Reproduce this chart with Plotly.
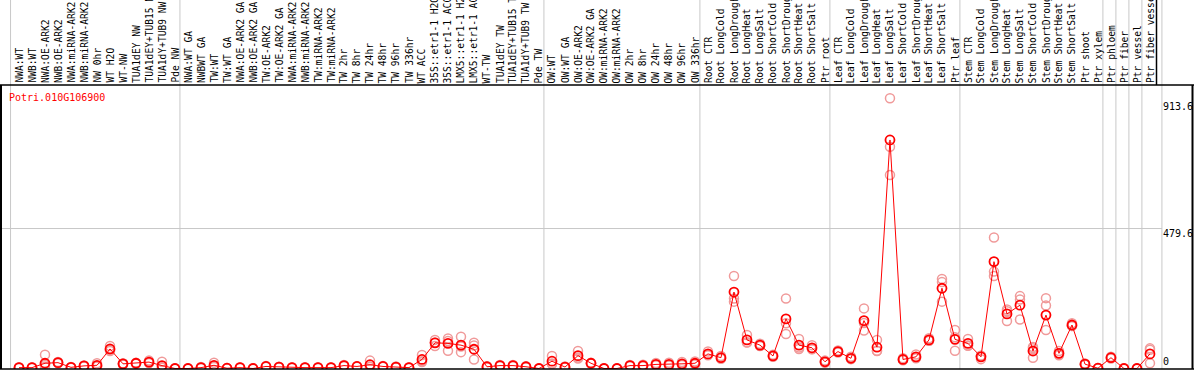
import plotly.graph_objects as go

gene = "Potri.010G106900"

categories = [
    "NWA:WT", "NWB:WT", "NWA:OE-ARK2", "NWB:OE-ARK2", "NWA:miRNA-ARK2", "NWB:miRNA-ARK2",
    "NW 0hr", "WT H2O", "WT-NW", "TUA1dEY NW", "TUA1dEY+TUB15 NW", "TUA1dY+TUB9 NW", "Pde NW",
    "NWA:WT GA", "NWBWT GA", "TW:WT", "TW:WT GA", "NWA:OE-ARK2 GA", "NWB:OE-ARK2 GA",
    "TW:OE-ARK2", "TW:OE-ARK2 GA", "NWA:miRNA-ARK2", "NWB:miRNA-ARK2", "TW:miRNA-ARK2",
    "TW:miRNA-ARK2", "TW 2hr", "TW 8hr", "TW 24hr", "TW 48hr", "TW 96hr", "TW 336hr",
    "WT ACC", "35S::etr1-1 H2O", "35S::etr1-1 ACC", "LMX5::etr1-1 H2O", "LMX5::etr1-1 ACC",
    "WT-TW", "TUA1dEY TW", "TUA1dEY+TUB15 TW", "TUA1dY+TUB9 TW", "Pde TW",
    "OW:WT", "OW:WT GA", "OW:OE-ARK2", "OW:OE-ARK2 GA", "OW:miRNA-ARK2", "OW:miRNA-ARK2",
    "OW 2hr", "OW 8hr", "OW 24hr", "OW 48hr", "OW 96hr", "OW 336hr",
    "Root CTR", "Root LongCold", "Root LongDrought", "Root LongHeat", "Root LongSalt",
    "Root ShortCold", "Root ShortDrought", "Root ShortHeat", "Root ShortSalt", "Ptr root",
    "Leaf CTR", "Leaf LongCold", "Leaf LongDrought", "Leaf LongHeat", "Leaf LongSalt",
    "Leaf ShortCold", "Leaf ShortDrought", "Leaf ShortHeat", "Leaf ShortSalt", "Ptr leaf",
    "Stem CTR", "Stem LongCold", "Stem LongDrought", "Stem LongHeat", "Stem LongSalt",
    "Stem ShortCold", "Stem ShortDrought", "Stem ShortHeat", "Stem ShortSalt", "Ptr shoot",
    "Ptr xylem", "Ptr phloem", "Ptr fiber", "Ptr vessel", "Ptr fiber vessel",
]

means = [
    3, 3, 18, 20, 4, 9, 11, 67, 16, 18, 22, 10, 0,
    0, 3, 11, 1, 3, 0, 7, 5, 3, 3, 3, 3, 10, 7, 13, 7, 5, 3,
    31, 88, 86, 80, 66, 6, 10, 10, 6, 0,
    25, 5, 44, 18, 0, 0, 10, 10, 14, 14, 16, 18,
    50, 37, 262, 98, 80, 43, 170, 80, 71, 23,
    58, 35, 164, 73, 783, 31, 40, 98, 275, 100,
    86, 40, 366, 187, 217, 60, 183, 52, 149, 15,
    1, 37, 0, 0, 50,
]

replicates = [
    [2, 4, 3], [2, 4, 3], [47, 6, 12], [18, 22, 20], [3, 5, 4], [7, 10, 9],
    [18, 8, 7], [77, 64, 60], [14, 17, 17], [16, 20, 18], [27, 20, 19], [23, 4, 3], [0, 1, 0],
    [0, 0, 1], [2, 5, 2], [20, 8, 5], [1, 2, 0], [2, 4, 3], [0, 1, 0],
    [9, 6, 6], [4, 6, 5], [3, 4, 2], [3, 4, 2], [3, 4, 2],
    [2, 4, 3], [12, 9, 9], [8, 6, 7], [27, 7, 5], [9, 6, 6], [7, 4, 4], [4, 2, 3],
    [46, 25, 22], [98, 77, 89], [103, 94, 61], [109, 56, 75], [88, 31, 79],
    [8, 5, 5], [12, 9, 9], [12, 9, 9], [8, 5, 5], [0, 1, 0],
    [43, 17, 15], [7, 4, 4], [60, 38, 34], [20, 17, 17], [0, 1, 0], [0, 1, 0],
    [12, 9, 9], [13, 9, 8], [19, 12, 11], [20, 12, 10], [22, 14, 12], [24, 15, 15],
    [58, 45, 47], [43, 33, 35], [317, 240, 229], [115, 90, 89], [85, 77, 78],
    [47, 40, 42], [240, 155, 118], [101, 67, 72], [80, 66, 67], [27, 20, 22],
    [62, 55, 57], [40, 32, 33], [206, 130, 156], [98, 60, 61], [926, 760, 663],
    [35, 28, 30], [48, 35, 37], [104, 95, 95], [307, 296, 229], [132, 61, 107],
    [101, 78, 79], [44, 32, 44], [449, 317, 332], [196, 163, 202], [248, 236, 168],
    [74, 37, 69], [241, 216, 132], [60, 45, 52], [155, 146, 146], [17, 13, 15],
    [2, 0, 1], [40, 34, 37], [0, 1, 0], [0, 1, 0], [69, 64, 18],
]

group_sizes = [13, 28, 12, 10, 10, 11, 1, 1, 1, 1]
y_tick_values = [913.6, 479.6, 0]
y_tick_labels = ["913.6", "479.6", "0"]
grid_values = [479.6]

# ---------------- layout constants ----------------
W, H = 1194, 370
ML, MR, MT, MB = 1, 1, 85, 1
PW = W - ML - MR
PH = H - MT - MB
XR = [-1.385, 90.31]
YR = [-1.7, 971.3]
FONT = "DejaVu Sans Mono"
GRAY = "#c8c8c8"
PALE = "#f09a9a"
RED = "#ff0000"

def px_x(p):
    return (p - ML) / PW

def px_y(p):
    return (H - MB - p) / PH

idx = list(range(len(categories)))

fig = go.Figure()

# replicate points
rx, ry = [], []
for i, reps in enumerate(replicates):
    for v in reps:
        rx.append(i)
        ry.append(v)
fig.add_trace(go.Scatter(
    x=rx, y=ry, mode="markers",
    marker=dict(symbol="circle-open", size=9, color=PALE, line=dict(width=1.5, color=PALE)),
    hoverinfo="skip", showlegend=False,
))
# mean line + points
fig.add_trace(go.Scatter(
    x=idx, y=means, mode="lines+markers",
    line=dict(color=RED, width=1),
    marker=dict(symbol="circle-open", size=9, color=RED, line=dict(width=1.8, color=RED)),
    showlegend=False,
))

shapes = []
top_paper = px_y(0)
# group dividers
boundaries = [0]
acc = 0
for g in group_sizes:
    acc += g
    boundaries.append(acc)
for b in boundaries:
    xb = b - 0.5 - 0.12
    if b == 0:
        xb = -0.65
    if b == boundaries[-1]:
        xb = b - 0.5 + 0.42
    shapes.append(dict(type="line", xref="x", yref="paper", x0=xb, x1=xb,
                       y0=0, y1=top_paper, line=dict(color=GRAY, width=1), layer="below"))
# horizontal grid
for gv in grid_values:
    shapes.append(dict(type="line", xref="paper", yref="y", x0=px_x(0), x1=px_x(1162),
                       y0=gv, y1=gv, line=dict(color=GRAY, width=1), layer="below"))
# frame
shapes += [
    dict(type="line", xref="paper", yref="paper", x0=px_x(0), x1=px_x(1194), y0=1, y1=1,
         line=dict(color="black", width=1.5)),
    dict(type="line", xref="paper", yref="paper", x0=px_x(0), x1=px_x(1194), y0=0, y1=0,
         line=dict(color="black", width=1.5)),
    dict(type="line", xref="paper", yref="paper", x0=px_x(1), x1=px_x(1), y0=0, y1=1,
         line=dict(color="black", width=2)),
    dict(type="line", xref="paper", yref="paper", x0=px_x(1192.5), x1=px_x(1192.5), y0=0, y1=1,
         line=dict(color="black", width=2)),
    dict(type="line", xref="paper", yref="paper", x0=px_x(1156.5), x1=px_x(1156.5), y0=1, y1=top_paper,
         line=dict(color="black", width=1.5)),
]

annotations = []
for i, c in enumerate(categories):
    annotations.append(dict(
        x=i, y=1, xref="x", yref="paper", text=c, textangle=-90,
        xanchor="center", yanchor="bottom", showarrow=False,
        font=dict(family=FONT, size=9.6, color="black"),
    ))
annotations.append(dict(
    x=px_x(7.3), y=px_y(97), xref="paper", yref="paper", text=gene,
    xanchor="left", yanchor="middle", showarrow=False,
    font=dict(family=FONT, size=10, color=RED),
))
for v, t in zip(y_tick_values, y_tick_labels):
    annotations.append(dict(
        x=px_x(1161), y=v, xref="paper", yref="y", text=t,
        xanchor="left", yanchor="bottom" if v == 0 else "top",
        yshift=0 if v == 0 else 3, showarrow=False,
        font=dict(family=FONT, size=10, color="black"),
    ))

fig.update_layout(
    width=W, height=H,
    margin=dict(l=ML, r=MR, t=MT, b=MB, pad=0),
    paper_bgcolor="white", plot_bgcolor="white",
    hovermode=False,
    xaxis=dict(range=XR, showgrid=False, zeroline=False, showticklabels=False, ticks="", showline=False),
    yaxis=dict(range=YR, showgrid=False, zeroline=False, showticklabels=False, ticks="", showline=False),
    shapes=shapes, annotations=annotations,
)

fig.write_html("out.html", config={"displayModeBar": False, "staticPlot": True},
               post_script="document.body.style.margin='0px';")
